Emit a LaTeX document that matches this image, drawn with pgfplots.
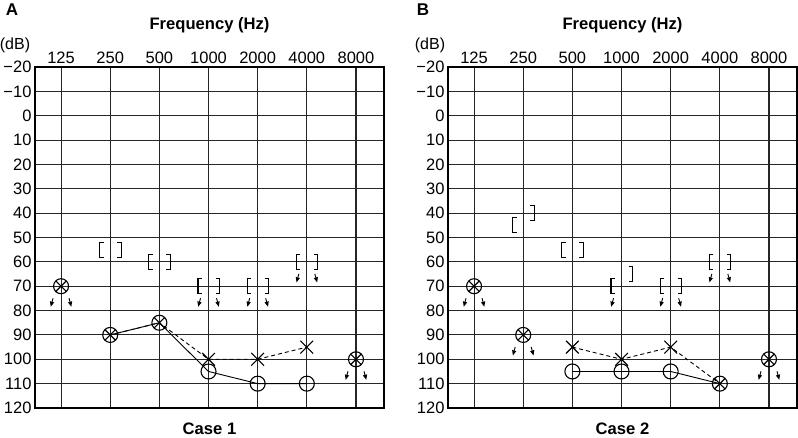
\documentclass[border=0pt]{standalone}
\usepackage{fontspec}
\setmainfont{Liberation Sans}
\usepackage{pgfplots}
\pgfplotsset{compat=1.18}
\usetikzlibrary{plotmarks}

% masked bone conduction brackets
\pgfdeclareplotmark{lbr}{%
  \pgfpathmoveto{\pgfqpoint{-6.5pt}{7.5pt}}%
  \pgfpathlineto{\pgfqpoint{-10.5pt}{7.5pt}}%
  \pgfpathlineto{\pgfqpoint{-10.5pt}{-7.5pt}}%
  \pgfpathlineto{\pgfqpoint{-6.5pt}{-7.5pt}}%
  \pgfusepathqstroke}
\pgfdeclareplotmark{rbr}{%
  \pgfpathmoveto{\pgfqpoint{7pt}{7.5pt}}%
  \pgfpathlineto{\pgfqpoint{11pt}{7.5pt}}%
  \pgfpathlineto{\pgfqpoint{11pt}{-7.5pt}}%
  \pgfpathlineto{\pgfqpoint{7pt}{-7.5pt}}%
  \pgfusepathqstroke}
% no response arrows
\pgfdeclareplotmark{larr}{%
  \pgfpathmoveto{\pgfqpoint{-8pt}{-12pt}}%
  \pgfpathlineto{\pgfqpoint{-9pt}{-15.7pt}}%
  \pgfusepathqstroke
  \pgfpathmoveto{\pgfqpoint{-10.3pt}{-20.5pt}}%
  \pgfpathlineto{\pgfqpoint{-6.9pt}{-16.2pt}}%
  \pgfpathlineto{\pgfqpoint{-11.1pt}{-15.0pt}}%
  \pgfpathclose
  \pgfusepathqfill}
\pgfdeclareplotmark{rarr}{%
  \pgfpathmoveto{\pgfqpoint{8pt}{-12pt}}%
  \pgfpathlineto{\pgfqpoint{9pt}{-15.7pt}}%
  \pgfusepathqstroke
  \pgfpathmoveto{\pgfqpoint{10.3pt}{-20.5pt}}%
  \pgfpathlineto{\pgfqpoint{6.9pt}{-16.2pt}}%
  \pgfpathlineto{\pgfqpoint{11.1pt}{-15.0pt}}%
  \pgfpathclose
  \pgfusepathqfill}

\pgfplotsset{
  audio/.style={
    scale only axis, width=349pt, height=341pt,
    xmin=-0.53, xmax=6.57, ymin=-20, ymax=120, y dir=reverse,
    xtick={0,...,6}, xticklabels={125,250,500,1000,2000,4000,8000},
    xticklabel pos=upper,
    ytick={-20,-10,...,120},
    yticklabels={−20,−10,0,10,20,30,40,50,60,70,80,90,100,110,120},
    major tick length=0pt,
    grid=major, major grid style={black!85, line width=1.1pt},
    axis line style={line width=1.5pt},
    tick label style={font=\fontsize{16.5}{18}\selectfont},
    clip=false,
  },
  brk/.style={only marks, black, mark options={line width=1.1pt}},
  arr/.style={only marks, black, mark options={line width=0.9pt, fill=black}},
  sym/.style={only marks, black, mark options={line width=1.1pt, solid}},
}

\begin{document}
\begin{tikzpicture}[x=1pt,y=1pt]
% Case 1
\begin{axis}[audio, at={(35pt,-408pt)}, anchor=south west]
  \addplot[black, line width=0.9pt] coordinates {(1,90) (2,85) (3,105) (4,110) (5,110)};
  \addplot[black, line width=0.9pt, dash pattern=on 4pt off 3pt] coordinates {(1,90) (2,85) (3,100) (4,100) (5,95)};
  \addplot[sym, mark=otimes, mark size=7.5pt] coordinates {(0,70) (1,90) (2,85) (6,100)};
  \addplot[sym, mark=o, mark size=7.5pt] coordinates {(3,105) (4,110) (5,110)};
  \addplot[sym, mark=x, mark size=9pt] coordinates {(3,100) (4,100) (5,95)};
  \addplot[brk, mark=lbr] coordinates {(1,55) (2,60) (3,70) (4,70) (5,60)};
  \addplot[brk, mark=rbr] coordinates {(1,55) (2,60) (3,70) (4,70) (5,60)};
  \addplot[arr, mark=larr] coordinates {(0,70) (6,100) (3,70) (4,70) (5,60)};
  \addplot[arr, mark=rarr] coordinates {(0,70) (6,100) (3,70) (4,70) (5,60)};
\end{axis}
% Case 2
\begin{axis}[audio, at={(448pt,-408pt)}, anchor=south west]
  \addplot[black, line width=0.9pt] coordinates {(2,105) (3,105) (4,105) (5,110)};
  \addplot[black, line width=0.9pt, dash pattern=on 4pt off 3pt] coordinates {(2,95) (3,100) (4,95) (5,110)};
  \addplot[sym, mark=otimes, mark size=7.5pt] coordinates {(0,70) (1,90) (5,110) (6,100)};
  \addplot[sym, mark=o, mark size=7.5pt] coordinates {(2,105) (3,105) (4,105)};
  \addplot[sym, mark=x, mark size=9pt] coordinates {(2,95) (3,100) (4,95)};
  \addplot[brk, mark=lbr] coordinates {(1,45) (2,55) (3,70) (4,70) (5,60)};
  \addplot[brk, mark=rbr] coordinates {(1,40) (2,55) (3,65) (4,70) (5,60)};
  \addplot[arr, mark=larr] coordinates {(0,70) (1,90) (6,100) (3,70) (4,70) (5,60)};
  \addplot[arr, mark=rarr] coordinates {(0,70) (1,90) (6,100) (4,70) (5,60)};
\end{axis}
\begin{scope}[every node/.style={inner sep=0pt}]
  \node at (12,-10) {\fontsize{17}{18}\selectfont\bfseries A};
  \node at (423,-10) {\fontsize{17}{18}\selectfont\bfseries B};
  \node at (209.5,-25) {\fontsize{16.6}{18}\selectfont\bfseries Frequency (Hz)};
  \node at (622.5,-25) {\fontsize{16.6}{18}\selectfont\bfseries Frequency (Hz)};
  \node at (15,-45) {\fontsize{16}{18}\selectfont (dB)};
  \node at (430,-45) {\fontsize{16}{18}\selectfont (dB)};
  \node at (209.5,-429) {\fontsize{16.6}{18}\selectfont\bfseries Case 1};
  \node at (622.5,-429) {\fontsize{16.6}{18}\selectfont\bfseries Case 2};
\end{scope}
\pgfresetboundingbox
\useasboundingbox (0,0) rectangle (798,-438);
\end{tikzpicture}
\end{document}
